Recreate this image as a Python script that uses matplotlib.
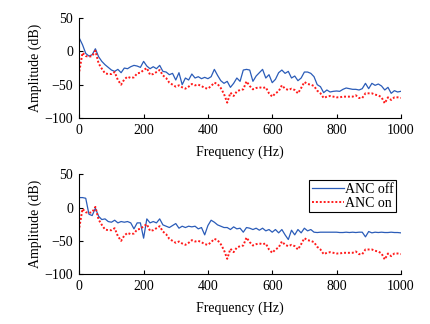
import numpy as np
import matplotlib
matplotlib.use('Agg')
import matplotlib.pyplot as plt

plt.rcParams['font.family'] = ['Liberation Serif', 'DejaVu Serif']
plt.rcParams['font.size'] = 10

# frequency grid (Hz), 10 Hz steps
freq = np.arange(0, 1001, 10)

# top panel, ANC off
off_top = [20, 10, -3, -7, -5, 4, -8, -15, -20, -24,
           -28, -30, -27, -32, -25, -26, -23, -21, -22, -24,
           -15, -22, -26, -23, -26, -21, -30, -31, -35, -33,
           -43, -32, -50, -40, -43, -34, -40, -38, -41, -39,
           -41, -38, -27, -36, -44, -48, -45, -54, -48, -40,
           -45, -28, -27, -28, -45, -37, -32, -27, -40, -35,
           -47, -42, -32, -28, -33, -30, -40, -37, -44, -40,
           -31, -31, -33, -38, -50, -53, -62, -58, -61, -60,
           -59.5, -60, -57, -55, -56, -57, -57, -58, -56, -48,
           -56, -48, -51, -49, -52, -58, -54, -63, -59, -61,
           -60]

# bottom panel, ANC off
off_bot = [15, 15, 14, -10, -12, -1, -13, -18, -17, -21,
           -22, -19, -23, -21, -22, -21, -23, -32, -23, -23,
           -46, -17, -23, -21, -23, -17, -26, -28, -30, -27,
           -24, -31, -28, -30, -28, -29, -28, -32, -30, -41,
           -27, -19, -22, -26, -28, -30, -30, -33, -29, -32,
           -31, -37, -30, -31, -33, -31, -34, -31, -35, -33,
           -37, -33, -38, -33, -41, -48, -34, -41, -33, -38,
           -31, -35, -33, -37, -37.5, -37, -37, -37, -37, -37,
           -37, -37.5, -37.5, -37, -37.5, -37, -37.5, -37, -37, -44,
           -36, -38, -37, -37.5, -37, -37.5, -37.5, -37, -37.5, -37.5,
           -38]

# ANC on (same in both panels)
on = [-30, -2, -7, -8, -7, 1, -18, -26, -33, -34,
      -34, -31, -43, -50, -42, -38, -40, -39, -33, -32,
      -28, -25, -35, -34, -31, -28, -36, -40, -47, -50,
      -53, -51, -54, -56, -53, -49, -51, -50, -52, -55,
      -56, -52, -47, -49, -55, -64, -77, -62, -67, -60,
      -58, -57, -45, -52, -57, -55, -54, -55, -54, -63,
      -68, -63, -60, -51, -56, -58, -56, -58, -63, -55,
      -46, -49, -50, -52, -59, -63, -70, -68, -67, -68,
      -69, -69, -68, -68, -68, -68, -66, -70, -70, -63,
      -63, -63, -65, -66, -69, -78, -69, -73, -69, -69,
      -70]

blue = '#2b5cb8'
red = '#ff1a1a'

fig = plt.figure(figsize=(4.31, 3.24), dpi=100)
ax1 = fig.add_axes([0.184, 0.636, 0.746, 0.308])
ax2 = fig.add_axes([0.184, 0.154, 0.746, 0.308])

for ax, off in [(ax1, off_top), (ax2, off_bot)]:
    ax.plot(freq, off, color=blue, lw=0.9, label='ANC off')
    ax.plot(freq, on, color=red, lw=1.4, ls=(0, (1, 1)), label='ANC on')
    ax.set_xlim(0, 1000)
    ax.set_ylim(-100, 50)
    ax.set_xticks(range(0, 1001, 200))
    ax.set_yticks([50, 0, -50, -100])
    ax.spines['top'].set_visible(False)
    ax.spines['right'].set_visible(False)
    ax.tick_params(direction='in', length=3, width=0.8, pad=4.5)
    ax.set_xlabel('Frequency (Hz)', labelpad=6)
    ax.set_ylabel('Amplitude (dB)', labelpad=2)

leg = ax2.legend(loc='upper right', bbox_to_anchor=(0.995, 0.97), fancybox=False,
                 edgecolor='black', framealpha=1, handlelength=2.3,
                 borderpad=0.2, labelspacing=0.05, handletextpad=0.1,
                 borderaxespad=0.2)
leg.get_frame().set_linewidth(0.8)

plt.savefig('out.png', dpi=100)
